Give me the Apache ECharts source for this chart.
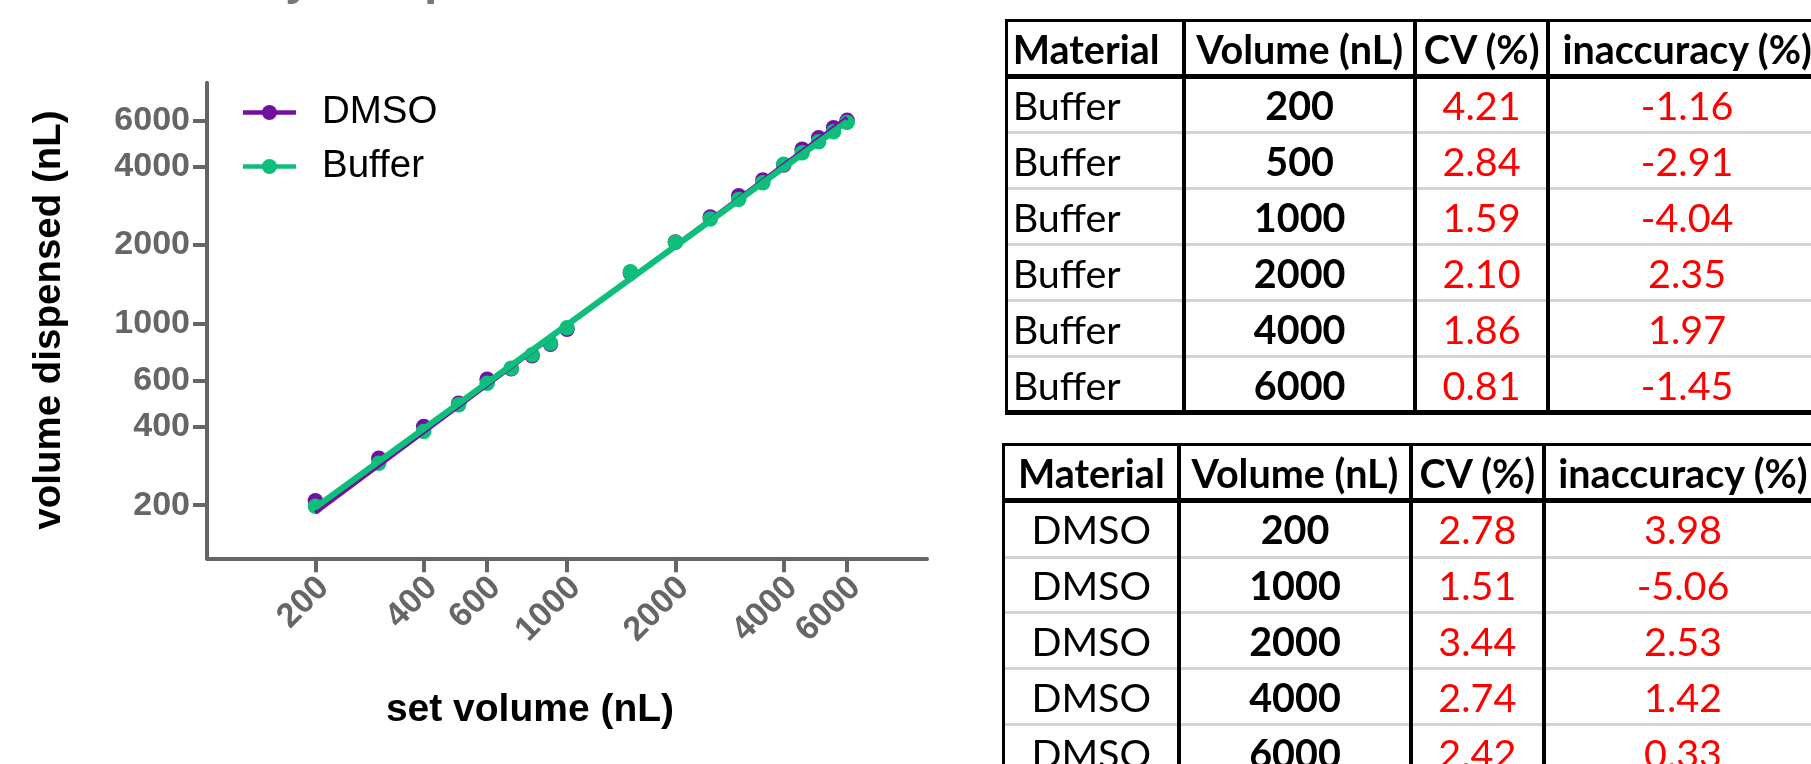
<!DOCTYPE html>
<html>
<head>
<meta charset="utf-8">
<script src="https://cdn.jsdelivr.net/npm/echarts@6/dist/echarts.min.js"></script>
<style>
  html, body { margin: 0; padding: 0; background: #fff; overflow: hidden; }
  #chart { position: absolute; left: 0; top: 0; width: 1811px; height: 764px; }
  .tbl { position: absolute; left: 0; top: 0; font-family: Lato, 'Noto Sans', sans-serif; font-size: 39.5px; color: #000; }
  .cell { position: absolute; display: flex; align-items: center; box-sizing: border-box; white-space: nowrap; }
  .ln { position: absolute; }
</style>
</head>
<body>
<div id="chart"></div>
<div id="t1" class="tbl"></div>
<div id="t2" class="tbl"></div>
<script>
// ----- chart data -----
var setVolumes = [200, 300, 400, 500, 600, 700, 800, 900, 1000, 1500, 2000, 2500, 3000, 3500, 4000, 4500, 5000, 5500, 6000];
var dmsoDispensed = [208, 303, 401, 493, 609, 668, 750, 830, 949, 1560, 2051, 2560, 3090, 3550, 4057, 4660, 5160, 5640, 6020];
var bufferDispensed = [198, 290, 384, 486, 588, 672, 756, 838, 960, 1578, 2047, 2515, 2992, 3467, 4079, 4520, 4983, 5440, 5913];

// linear fits (log-log), end points
var fitX = [200, 6000];
var dmsoFitY = [187, 6170];
var bufferFitY = [196, 5960];

var tickValues = [200, 400, 600, 1000, 2000, 4000, 6000];
var xRange = [100, 10000];
var yRange = [125, 8400];

// ----- table data -----
var tableHeader = ['Material', 'Volume (nL)', 'CV (%)', 'inaccuracy (%)'];
var bufferVolumes = [200, 500, 1000, 2000, 4000, 6000];
var bufferCV = ['4.21', '2.84', '1.59', '2.10', '1.86', '0.81'];
var bufferInacc = ['-1.16', '-2.91', '-4.04', '2.35', '1.97', '-1.45'];
var dmsoVolumes = [200, 1000, 2000, 4000, 6000];
var dmsoCV = ['2.78', '1.51', '3.44', '2.74', '2.42'];
var dmsoInacc = ['3.98', '-5.06', '2.53', '1.42', '0.33'];

var purple = '#7410a0';
var green = '#0ebe7b';
var axisGray = '#666666';
var font = "'Liberation Sans', Arial, sans-serif";

var lg = Math.log10;
function pairs(xs, ys) {
  return xs.map(function (x, i) { return [lg(x), lg(ys[i])]; });
}
var tickLog = tickValues.map(lg);
function fmt(v) { return String(Math.round(Math.pow(10, v))); }

var chart = echarts.init(document.getElementById('chart'));
chart.setOption({
  animation: false,
  grid: { left: 207, top: 82.7, width: 720, height: 475.6, outerBoundsMode: 'none' },
  xAxis: {
    type: 'value',
    min: lg(xRange[0]),
    max: lg(xRange[1]),
    splitLine: { show: false },
    axisLine: { show: true, lineStyle: { color: axisGray, width: 4 } },
    axisTick: { show: true, customValues: tickLog, length: 14, lineStyle: { color: axisGray, width: 4 } },
    axisLabel: {
      customValues: tickLog, rotate: 45, margin: 16, formatter: fmt,
      verticalAlign: 'top', lineHeight: 23,
      color: axisGray, fontFamily: font, fontWeight: 'bold', fontSize: 34
    }
  },
  yAxis: {
    type: 'value',
    min: lg(yRange[0]),
    max: lg(yRange[1]),
    splitLine: { show: false },
    axisLine: { show: true, lineStyle: { color: axisGray, width: 4 } },
    axisTick: { show: true, customValues: tickLog, length: 14, lineStyle: { color: axisGray, width: 4 } },
    axisLabel: {
      customValues: tickLog, margin: 17, formatter: fmt,
      color: axisGray, fontFamily: font, fontWeight: 'bold', fontSize: 34
    }
  },
  legend: {
    orient: 'vertical',
    left: 240.7,
    top: 92,
    padding: 0,
    itemWidth: 53,
    itemHeight: 19,
    itemGap: 13,
    data: ['DMSO', 'Buffer'],
    lineStyle: { width: 4.5 },
    textStyle: { fontFamily: font, fontSize: 38.5, lineHeight: 41, color: '#000', padding: [0, 0, 0, 21] }
  },
  graphic: [
    {
      type: 'text', x: 112, y: -43, silent: true,
      style: { text: 'Linearity comparison', fontFamily: font, fontWeight: 'bold', fontSize: 48, fill: '#777', verticalAlign: 'top' }
    },
    {
      type: 'text', x: 49, y: 320, rotation: Math.PI / 2, silent: true,
      style: { text: 'volume dispensed (nL)', fontFamily: font, fontWeight: 'bold', fontSize: 38.5, fill: '#000', align: 'center', verticalAlign: 'middle' }
    },
    {
      type: 'text', x: 530, y: 710, silent: true,
      style: { text: 'set volume (nL)', fontFamily: font, fontWeight: 'bold', fontSize: 39, fill: '#000', align: 'center', verticalAlign: 'middle' }
    }
  ],
  series: [
    {
      name: 'DMSO', type: 'line', z: 3, data: pairs(fitX, dmsoFitY),
      symbol: 'circle', showSymbol: false, silent: true,
      lineStyle: { color: purple, width: 4 }, itemStyle: { color: purple }
    },
    {
      name: 'Buffer', type: 'line', z: 4, data: pairs(fitX, bufferFitY),
      symbol: 'circle', showSymbol: false, silent: true,
      lineStyle: { color: green, width: 6 }, itemStyle: { color: green }
    },
    {
      name: 'DMSO', type: 'scatter', z: 1, data: pairs(setVolumes, dmsoDispensed),
      symbolSize: 15.5, itemStyle: { color: purple, opacity: 1 }, silent: true
    },
    {
      name: 'Buffer', type: 'scatter', z: 2, data: pairs(setVolumes, bufferDispensed),
      symbolSize: 15.5, itemStyle: { color: green, opacity: 1 }, silent: true
    }
  ]
});

// ----- tables -----
function drawTable(id, colX, rowY, rows, firstLeft) {
  var el = document.getElementById(id);
  var html = '';
  var x0 = colX[0], x1 = colX[colX.length - 1];
  var y0 = rowY[0], y1 = rowY[rowY.length - 1];
  // gray row separators first
  for (var i = 2; i < rowY.length - 1; i++) {
    html += '<div class="ln" style="left:' + x0 + 'px;top:' + (rowY[i] - 1.5) + 'px;width:' + (x1 - x0) + 'px;height:3px;background:#d4d4d4"></div>';
  }
  // cells
  rows.forEach(function (row, r) {
    row.forEach(function (c, k) {
      var left = colX[k], w = colX[k + 1] - colX[k];
      var top = rowY[r], h = rowY[r + 1] - rowY[r];
      var isLeft = k === 0 && firstLeft;
      var just = isLeft ? 'flex-start' : 'center';
      var pad = isLeft ? 'padding-left:6px;' : '';
      var weight = (r === 0 || k === 1) ? 'bold' : 'normal';
      var color = (r > 0 && k >= 2) ? '#ff0000' : '#000';
      html += '<div class="cell" style="left:' + left + 'px;top:' + top + 'px;width:' + w + 'px;height:' + h +
        'px;justify-content:' + just + ';' + pad + 'font-weight:' + weight + ';color:' + color + '">' + c + '</div>';
    });
  });
  // black horizontal rules
  [[0, 3], [1, 5], [rowY.length - 1, 5]].forEach(function (p) {
    html += '<div class="ln" style="left:' + (x0 - 1.5) + 'px;top:' + (rowY[p[0]] - p[1] / 2) + 'px;width:' + (x1 - x0 + 3) + 'px;height:' + p[1] + 'px;background:#000"></div>';
  });
  // vertical rules
  colX.forEach(function (x, k) {
    var w = k === 0 ? 3 : 4;
    html += '<div class="ln" style="left:' + (x - w / 2) + 'px;top:' + y0 + 'px;width:' + w + 'px;height:' + (y1 - y0) + 'px;background:#000"></div>';
  });
  el.innerHTML = html;
}

function buildRows(material, vols, cv, inacc) {
  var rows = [tableHeader];
  vols.forEach(function (v, i) { rows.push([material, String(v), cv[i], inacc[i]]); });
  return rows;
}

drawTable('t1', [1006.7, 1184.3, 1415, 1548.3, 1826], [20, 76, 132.5, 188.3, 244.3, 300.2, 356, 412],
  buildRows('Buffer', bufferVolumes, bufferCV, bufferInacc), true);
drawTable('t2', [1003.3, 1179.3, 1410.7, 1544, 1822], [444, 500.7, 557.3, 612.7, 668.3, 724, 780],
  buildRows('DMSO', dmsoVolumes, dmsoCV, dmsoInacc), false);
</script>
</body>
</html>
